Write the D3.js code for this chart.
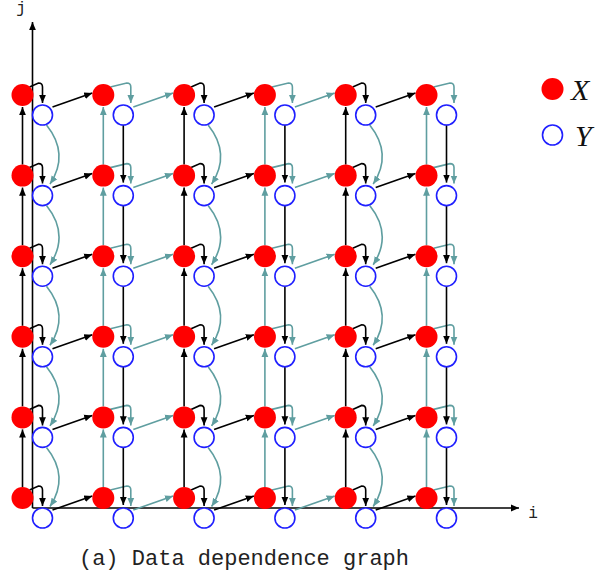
<!DOCTYPE html>
<html>
<head>
<meta charset="utf-8">
<script src="https://cdn.jsdelivr.net/npm/d3@7"></script>
<style>
html,body{margin:0;padding:0;background:#fff;}
svg{display:block;}
</style>
</head>
<body>
<svg id="chart" width="598" height="573"></svg>
<script>
// ---- data ----
const iValues = [0, 1, 2, 3, 4, 5];          // columns (i)
const jValues = [0, 1, 2, 3, 4, 5];          // rows (j)
const nodeTypes = ["X", "Y"];
// colour class of the edges in each column: "k" = black, "t" = teal
const xVerticalColor = ["k", "t", "k", "t", "k", "t"];   // X(i,j-1) -> X(i,j)
const xToYColor      = ["k", "t", "k", "t", "k", "t"];   // X(i,j) -> Y(i,j)
const yDownKind      = ["curve", "line", "curve", "line", "curve", "line"]; // Y(i,j) -> Y(i,j-1)
const yDownColor     = ["t", "k", "t", "k", "t", "k"];
const diagColor      = ["k", "t", "k", "t", "k"];        // Y(i,j) -> X(i+1,j)
const axisLabels = ["i", "j"];
const caption = "(a) Data dependence graph";

// ---- drawing ----
const colors = { k: "#000000", t: "#5f9ea0" };
const svg = d3.select("#chart");
const x = d3.scaleLinear().domain([0, 5]).range([22.5, 426.5]);
const y = d3.scaleLinear().domain([0, 5]).range([498, 95]);
const dY = 20;           // pixel offset of Y node from X node
const rX = 11, rY = 10;

const defs = svg.append("defs");
Object.entries(colors).forEach(([k, c]) => {
  defs.append("marker")
    .attr("id", "arr-" + k)
    .attr("markerUnits", "userSpaceOnUse")
    .attr("viewBox", "0 -5 10 10")
    .attr("refX", 9).attr("refY", 0)
    .attr("markerWidth", 9).attr("markerHeight", 9)
    .attr("orient", "auto")
    .append("path").attr("d", "M0,-3.8L9,0L0,3.8Z").attr("fill", c);
});

// axes
const ox = x(0) + 10, oy = y(0) + 10;
const axes = svg.append("g");
axes.append("line").attr("x1", ox).attr("y1", oy).attr("x2", 519).attr("y2", oy)
  .attr("stroke", "#000").attr("stroke-width", 1.6).attr("marker-end", "url(#arr-k)");
axes.append("line").attr("x1", ox).attr("y1", oy).attr("x2", ox).attr("y2", 22)
  .attr("stroke", "#000").attr("stroke-width", 1.6).attr("marker-end", "url(#arr-k)");
axes.append("text").text(axisLabels[0]).attr("x", 533).attr("y", 518)
  .attr("text-anchor", "middle").attr("font-family", "Liberation Mono").attr("font-size", 16).attr("fill", "#222");
axes.append("text").text(axisLabels[1]).attr("x", 21).attr("y", 13)
  .attr("text-anchor", "middle").attr("font-family", "Liberation Mono").attr("font-size", 16).attr("fill", "#222");

const edges = svg.append("g").attr("fill", "none").attr("stroke-width", 1.6);
function edge(d, c) {
  edges.append("path").attr("d", d).attr("stroke", colors[c]).attr("marker-end", "url(#arr-" + c + ")");
}

iValues.forEach((i, ii) => {
  jValues.forEach(j => {
    const xc = x(i), yc = y(j);
    const yx = xc + dY, yy = yc + dY;
    // X(i,j-1) -> X(i,j)
    if (j > jValues[0]) {
      edge(`M${xc},${y(j - 1) - rX}L${xc},${yc + rX + 1}`, xVerticalColor[ii]);
    }
    // X(i,j) -> Y(i,j)
    const tx = xToYColor[ii] === "k" ? yx : yx + 7.5;
    edge(`M${xc + 7},${yc - 8}L${tx - 4},${yc - 12}Q${tx},${yc - 12} ${tx},${yc - 8}L${tx},${yy - rY - 2}`, xToYColor[ii]);
    // Y(i,j) -> Y(i,j-1)
    if (j > jValues[0]) {
      const yyb = y(j - 1) + dY;
      if (yDownKind[ii] === "curve") {
        edge(`M${yx + 4},${yy + 10}C${yx + 20},${yy + 30} ${yx + 20},${yy + 50} ${yx + 7.5},${yyb - rY - 1.5}`, yDownColor[ii]);
      } else {
        edge(`M${yx},${yy + rY}L${yx},${yyb - rY - 3}`, yDownColor[ii]);
      }
    }
    // Y(i,j) -> X(i+1,j)
    if (ii < iValues.length - 1) {
      const xn = x(iValues[ii + 1]);
      edge(`M${yx + 10},${yy - 8}L${xn - rX},${yc - 2}`, diagColor[ii]);
    }
  });
});

// nodes
const nodes = [];
iValues.forEach(i => jValues.forEach(j => nodeTypes.forEach(t => nodes.push({ i, j, t }))));
svg.append("g").selectAll("circle").data(nodes).join("circle")
  .attr("cx", d => x(d.i) + (d.t === "Y" ? dY : 0))
  .attr("cy", d => y(d.j) + (d.t === "Y" ? dY : 0))
  .attr("r", d => d.t === "X" ? rX : rY)
  .attr("fill", d => d.t === "X" ? "#ff0000" : "#ffffff")
  .attr("stroke", d => d.t === "X" ? "none" : "#1f1fff")
  .attr("stroke-width", 1.6);

// legend
const legend = svg.append("g");
nodeTypes.forEach((t, k) => {
  const ly = 89 + k * 46;
  legend.append("circle").attr("cx", 552.5).attr("cy", ly)
    .attr("r", t === "X" ? rX : rY)
    .attr("fill", t === "X" ? "#ff0000" : "#ffffff")
    .attr("stroke", t === "X" ? "none" : "#1f1fff").attr("stroke-width", 1.6);
  legend.append("text").text(t).attr("x", t === "X" ? 571 : 575).attr("y", ly + 11)
    .attr("font-family", "Liberation Serif").attr("font-style", "italic")
    .attr("font-size", 30).attr("fill", "#111");
});

// caption
svg.append("text").text(caption).attr("x", 244).attr("y", 565)
  .attr("text-anchor", "middle").attr("font-family", "Liberation Mono")
  .attr("font-size", 22).attr("fill", "#222").attr("xml:space", "preserve");
</script>
</body>
</html>
